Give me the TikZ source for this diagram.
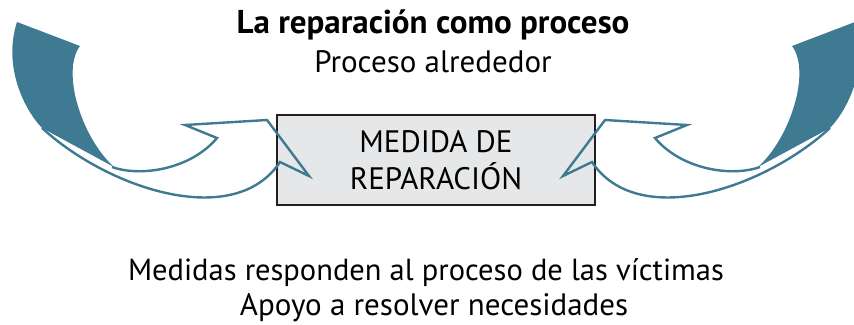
\documentclass[tikz,border=0pt]{standalone}
\usepackage{fontspec}
\setmainfont{PT Sans}
\usetikzlibrary{positioning}
\definecolor{tealarrow}{RGB}{62,123,146}
\definecolor{boxgray}{RGB}{230,231,232}
\definecolor{boxline}{RGB}{35,31,32}

\tikzset{
	sweeparrow/.pic={
		% hollow arrow
		\draw[tealarrow, line width=2.4pt, line join=miter]
			(42,128) .. controls (110,190) and (235,230) .. (280,162)
			-- (309,176) -- (267,120) -- (185,125) -- (217,138)
			.. controls (190,170) and (140,177) .. (112,167);
		% blade
		\fill[tealarrow] (17,22) -- (80,46)
			.. controls (61,71) and (81,137) .. (114,167)
			-- (42,128)
			.. controls (23,108) and (3,65) .. (17,22) -- cycle;
	}
}

\begin{document}
\begin{tikzpicture}[x=1pt, y=-1pt]
\useasboundingbox (0,0) rectangle (854,324);

% box
\node[draw=boxline, fill=boxgray, line width=2.2pt, minimum width=318pt, minimum height=90pt,
	align=center, font=\fontsize{31}{37}\selectfont] (medida) at (436,160) {MEDIDA DE\\REPARACIÓN};

% arrows
\pic at (0,0) {sweeparrow};
\pic[xscale=-1] at (872,0) {sweeparrow};

% texts
\node[anchor=base, font=\fontsize{33}{38}\selectfont\bfseries] (title) at (433,33) {La reparación como proceso};
\node[anchor=base, font=\fontsize{31}{36}\selectfont] (subtitle) at (433,72) {Proceso alrededor};
\node[anchor=base, font=\fontsize{30.5}{36}\selectfont] (note1) at (426,280) {Medidas responden al proceso de las víctimas};
\node[anchor=base, font=\fontsize{31}{36}\selectfont] (note2) at (434,315) {Apoyo a resolver necesidades};
\end{tikzpicture}
\end{document}
